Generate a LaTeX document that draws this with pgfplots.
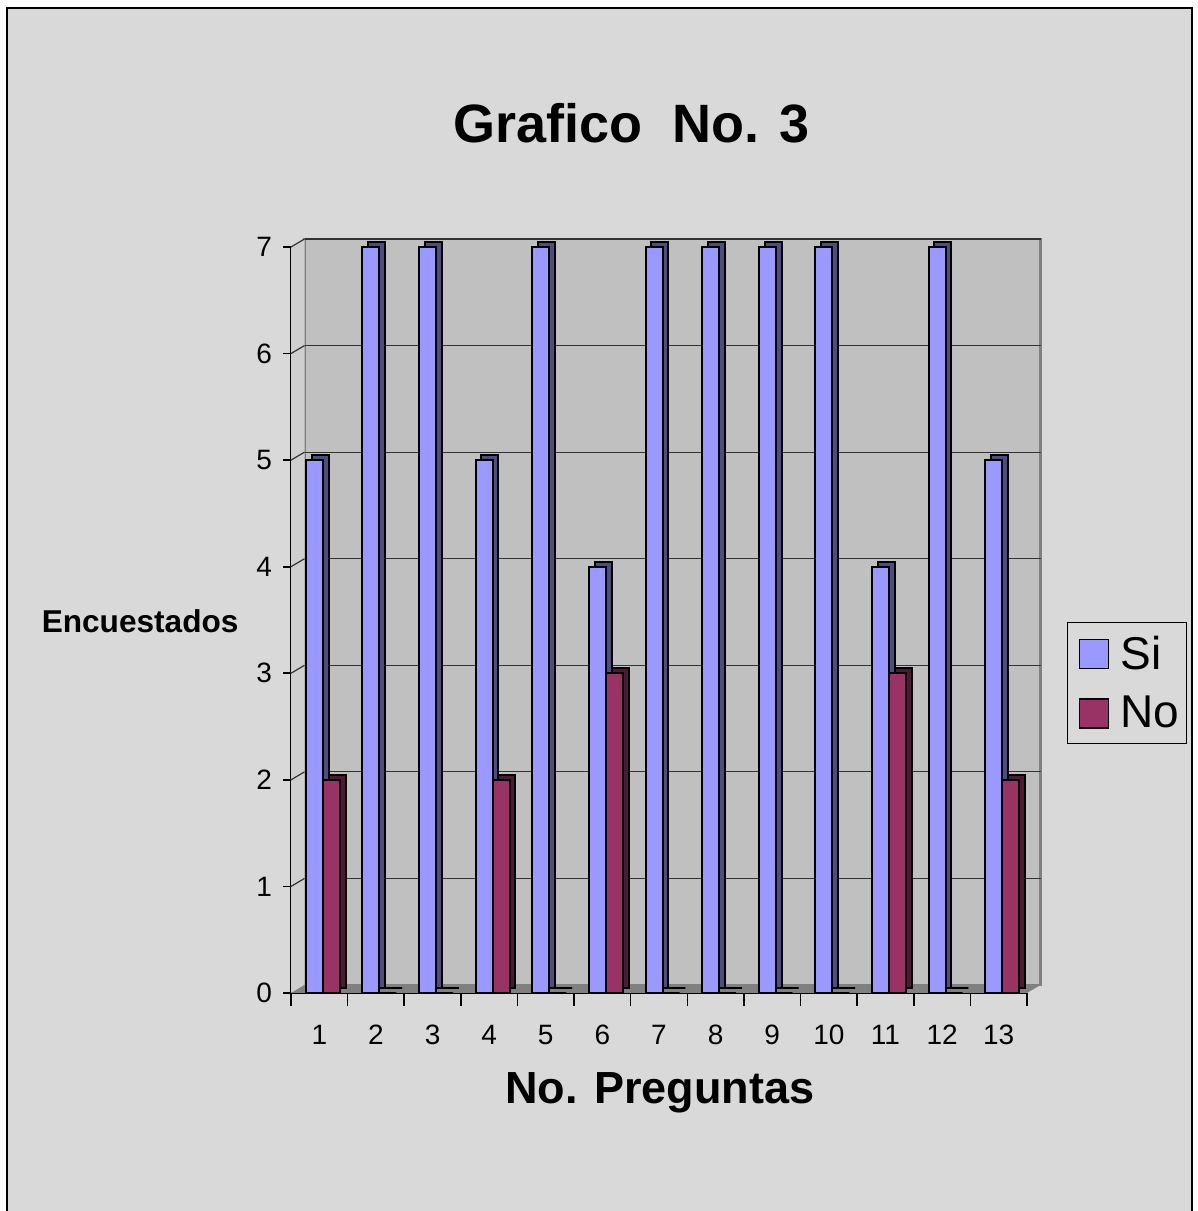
\documentclass[border=0pt]{standalone}
\usepackage{pgfplots}
\usepackage{pgfplotstable}
\pgfplotsset{compat=1.18}
\usepackage{fontspec}
\setmainfont{Liberation Sans}
\definecolor{bg}{HTML}{D9D9D9}
\definecolor{wall}{HTML}{C0C0C0}
\definecolor{sidewall}{HTML}{CFCFCF}
\definecolor{floorc}{HTML}{808080}
\definecolor{si}{HTML}{9999FF}
\definecolor{sid}{HTML}{4D4D80}
\definecolor{no}{HTML}{993366}
\definecolor{nod}{HTML}{4D1A33}
\pgfplotstableread{
x si no
0.5 5 2
1.5 7 0
2.5 7 0
3.5 5 2
4.5 7 0
5.5 4 3
6.5 7 0
7.5 7 0
8.5 7 0
9.5 7 0
10.5 4 3
11.5 7 0
12.5 5 2
}\data
\begin{document}
\begin{tikzpicture}
\path[use as bounding box] (0,0) rectangle (599pt,605.5pt);
\fill[white] (0,0) rectangle (599pt,605.5pt);
\draw[fill=bg, line width=1pt] (3.5pt,-2pt) rectangle (596pt,601.5pt);
\begin{axis}[
  at={(145.5pt,109pt)}, anchor=south west,
  width=368pt, height=373pt, scale only axis,
  clip=false,
  xmin=0, xmax=13, ymin=0, ymax=7,
  axis x line*=bottom, axis y line*=left,
  axis line style={black, line width=0.8pt, -},
  /pgf/number format/assume math mode=true,
  xtick={0.5,1.5,...,12.5},
  xticklabels={1,2,3,4,5,6,7,8,9,10,11,12,13},
  minor xtick={0,1,...,13},
  ytick={0,1,...,7},
  tick align=outside,
  major tick length=4pt,
  minor tick length=6.5pt,
  major x tick style={draw=none},
  minor x tick style={black, line width=0.8pt},
  ytick style={black, line width=0.8pt},
  ticklabel style={font=\fontsize{14}{16}\selectfont},
  xticklabel style={yshift=-8.5pt},
  yticklabel style={xshift=-2pt},
  every axis title/.style={at={(0.463,1.166)}, anchor=center, font=\bfseries\fontsize{27}{30}\selectfont},
  title={Grafico\ \ No. 3},
  every axis x label/.style={at={(0.501,-0.134)}, anchor=center, font=\bfseries\fontsize{22.5}{26}\selectfont},
  xlabel={No. Preguntas},
  every axis y label/.style={at={(-0.205,0.499)}, anchor=center, font=\bfseries\fontsize{15.8}{18}\selectfont},
  ylabel={Encuestados},
  legend style={at={(1.054,0.497)}, anchor=north west, draw=black, line width=0.6pt, fill=bg,
    font=\fontsize{23}{26}\selectfont, legend cell align=left, row sep=8pt,
    inner xsep=2pt, inner ysep=4.5pt, nodes={inner xsep=1.5pt}},
  legend image code/.code={\draw[#1, draw=black, line width=0.8pt] (3.5pt,-7.25pt) rectangle (18pt,7.25pt); \path (0pt,0pt) (22pt,0pt);},
]
% 3D walls and floor
\fill[wall, draw=floorc, line width=1.2pt] ([shift={(6.75pt,4pt)}]axis cs:0,0) rectangle ([shift={(6.75pt,4pt)}]axis cs:13,7);
\fill[sidewall] (axis cs:0,0) -- (axis cs:0,7) -- ([shift={(6.75pt,4pt)}]axis cs:0,7) -- ([shift={(6.75pt,4pt)}]axis cs:0,0) -- cycle;
\fill[floorc] (axis cs:0,0) -- (axis cs:13,0) -- ([shift={(6.75pt,4pt)}]axis cs:13,0) -- ([shift={(6.75pt,4pt)}]axis cs:0,0) -- cycle;
\pgfplotsinvokeforeach{1,...,7}{
  \draw[black!80, line width=0.6pt] ([shift={(6.75pt,4pt)}]axis cs:0,#1) -- ([shift={(6.75pt,4pt)}]axis cs:13,#1);
  \draw[black!80, line width=0.6pt] (axis cs:0,#1) -- ([shift={(6.75pt,4pt)}]axis cs:0,#1);
}
% Si bars
\addplot[ybar, bar width=8.5pt, bar shift=-2.5pt, fill=sid, draw=black, line width=1pt, xshift=2.9pt, yshift=2.5pt, forget plot] table[x=x,y=si]{\data};
\addplot[ybar, bar width=8.5pt, bar shift=-2.5pt, fill=si, draw=black, line width=1pt] table[x=x,y=si]{\data};
% No bars
\addplot[ybar, bar width=8.5pt, bar shift=6pt, fill=nod, draw=black, line width=1pt, xshift=2.9pt, yshift=2.5pt, forget plot] table[x=x,y=no]{\data};
\addplot[ybar, bar width=8.5pt, bar shift=6pt, fill=no, draw=black, line width=1pt] table[x=x,y=no]{\data};
\legend{Si,No}
\end{axis}
\end{tikzpicture}
\end{document}
